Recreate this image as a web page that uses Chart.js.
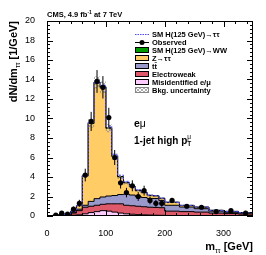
<!DOCTYPE html>
<html>
<head>
<meta charset="utf-8">
<script src="https://cdn.jsdelivr.net/npm/chart.js@4/dist/chart.umd.min.js"></script>
<style>
html,body{margin:0;padding:0;background:#fff;}
canvas{display:block;}
</style>
</head>
<body>
<canvas id="chart" width="266" height="255"></canvas>
<script>
// bin edges in m_tautau [GeV]
const binEdges=[0,10,20,30,40,50,60,70,80,90,100,110,120,130,140,150,160,170,180,190,200,225,250,275,300,325,350];

// per-bin dN/dm values
const misId=[0,0.02,0.03,0.05,0.08,0.12,0.22,0.35,0.45,0.55,0.5,0.4,0.3,0.22,0.18,0.14,0.12,0.1,0.08,0.07,0.05,0.04,0.03,0.02,0.02,0.01];
const ewk=[0.01,0.02,0.04,0.07,0.22,0.43,0.68,0.65,0.65,0.65,0.75,0.85,0.95,0.88,0.87,0.86,0.83,0.8,0.8,0.78,0.45,0.41,0.37,0.28,0.23,0.19];
const ttbar=[0.01,0.02,0.03,0.06,0.08,0.15,0.2,0.5,0.68,0.75,0.8,0.85,0.95,1.15,1.1,1.0,0.95,0.9,0.92,0.75,0.6,0.47,0.35,0.2,0.13,0.1];
const ztt=[0.02,0.02,0.03,0.04,0.1,0.35,3.0,8.0,11.92,11.25,6.95,4.0,1.8,1.15,0.85,0.6,0.5,0.3,0.25,0.2,0.3,0.16,0.15,0.08,0.09,0.05];
const hww=[0,0,0,0,0,0.01,0.02,0.03,0.04,0.05,0.05,0.05,0.04,0.04,0.03,0.03,0.02,0.02,0.02,0.02,0.01,0.01,0.01,0,0,0];
const htt=[0,0,0,0,0.01,0.02,0.05,0.1,0.13,0.15,0.18,0.18,0.15,0.12,0.08,0.06,0.04,0.03,0.02,0.02,0.01,0.01,0.01,0,0,0];
const bkgErr=[0.01,0.01,0.01,0.02,0.03,0.06,0.2,0.45,0.6,0.6,0.42,0.3,0.2,0.17,0.15,0.14,0.13,0.11,0.1,0.09,0.08,0.06,0.05,0.04,0.03,0.03];

const observed=[null,0.1,0.3,0.2,0.7,1.3,4.2,9.7,13.8,13.2,10.1,6.0,3.4,2.4,3.1,2.0,2.6,1.6,1.3,1.3,1.6,1.0,0.9,0.45,0.55,0.3];
const observedErr=[null,0.1,0.17,0.14,0.26,0.36,0.65,0.98,1.17,1.15,1.0,0.77,0.58,0.49,0.56,0.45,0.51,0.4,0.36,0.36,0.25,0.2,0.19,0.13,0.15,0.11];

const xTicks=[0,100,200,300];
const yTicks=[0,2,4,6,8,10,12,14,16,18,20];

const FONT="'Liberation Sans', Arial, Helvetica, sans-serif";

function addUp(a,b){return a.map((v,i)=>v+b[i]);}
const cumMis=misId;
const cumEwk=addUp(cumMis,ewk);
const cumTt=addUp(cumEwk,ttbar);
const cumZtt=addUp(cumTt,ztt);
const cumHww=addUp(cumZtt,hww);
const cumHtt=addUp(cumHww,htt);
const bandUp=addUp(cumZtt,bkgErr);
const bandLo=cumZtt.map((v,i)=>v-bkgErr[i]);

function steps(vals){
  let pts=vals.map((v,i)=>({x:binEdges[i],y:v}));
  pts.push({x:binEdges[binEdges.length-1],y:vals[vals.length-1]});
  return pts;
}

const canvas=document.getElementById("chart");
const ctx0=canvas.getContext("2d");

// hatch pattern for bkg uncertainty
const pc=document.createElement("canvas");
pc.width=4;pc.height=4;
const p=pc.getContext("2d");
p.strokeStyle="#8a8a8a";p.lineWidth=0.7;
p.beginPath();p.moveTo(0,4);p.lineTo(4,0);p.moveTo(0,0);p.lineTo(4,4);p.stroke();
const hatch=ctx0.createPattern(pc,"repeat");

function layer(vals,color){
  return {data:steps(vals),stepped:true,fill:"origin",backgroundColor:color,
    borderColor:"#000",borderWidth:1,pointRadius:0};
}

// rich text helper: parts = [{t, size, bold, dy}]
function richWidth(ctx,parts){
  let w=0;
  parts.forEach(pt=>{
    ctx.font=(pt.bold?"bold ":"")+pt.size+"px "+FONT;
    if(!pt.stack) w+=ctx.measureText(pt.t).width;
  });
  return w;
}
function drawRich(ctx,parts,x,y){
  let cx=x;
  parts.forEach(pt=>{
    ctx.font=(pt.bold?"bold ":"")+pt.size+"px "+FONT;
    ctx.fillText(pt.t,cx,y+(pt.dy||0));
    if(!pt.stack) cx+=ctx.measureText(pt.t).width;
  });
  return cx;
}

const decor={
  id:"decor",
  afterDatasetsDraw(chart){
    const ctx=chart.ctx,xs=chart.scales.x,ys=chart.scales.y;
    ctx.save();
    ctx.strokeStyle="#000";ctx.lineWidth=1;
    observed.forEach((v,i)=>{
      if(v===null) return;
      const px=xs.getPixelForValue((binEdges[i]+binEdges[i+1])/2);
      ctx.beginPath();
      ctx.moveTo(px,ys.getPixelForValue(v-observedErr[i]));
      ctx.lineTo(px,ys.getPixelForValue(v+observedErr[i]));
      ctx.stroke();
    });
    ctx.restore();
  },
  afterDraw(chart){
    const ctx=chart.ctx,a=chart.chartArea,xs=chart.scales.x,ys=chart.scales.y;
    ctx.save();
    ctx.fillStyle="#000";ctx.strokeStyle="#000";ctx.lineWidth=1;
    // frame
    ctx.strokeRect(Math.round(a.left)+0.5,Math.round(a.top)+0.5,Math.round(a.right-a.left)-1,Math.round(a.bottom-a.top)-1);
    // inner ticks
    ctx.beginPath();
    for(let v=0;v<=20.001;v+=0.4){
      const py=Math.round(ys.getPixelForValue(v))+0.5;
      const major=Math.abs(v/2-Math.round(v/2))<0.01;
      const L=major?6:3;
      ctx.moveTo(a.left,py);ctx.lineTo(a.left+L,py);
      ctx.moveTo(a.right,py);ctx.lineTo(a.right-L,py);
    }
    for(let v=0;v<=350.001;v+=20){
      const px=Math.round(xs.getPixelForValue(v))+0.5;
      const major=v%100===0;
      const L=major?6:3;
      ctx.moveTo(px,a.bottom);ctx.lineTo(px,a.bottom-L);
      ctx.moveTo(px,a.top);ctx.lineTo(px,a.top+L);
    }
    ctx.stroke();

    ctx.textBaseline="alphabetic";ctx.textAlign="left";
    // title
    drawRich(ctx,[{t:"CMS, 4.9 fb",size:7.5,bold:true},{t:"-1",size:5,bold:true,dy:-3},{t:" at 7 TeV",size:7.5,bold:true}],a.left,17);

    // y axis title, rotated, aligned to top
    const yParts=[{t:"dN/dm",size:11,bold:true},{t:"\u03c4\u03c4",size:7,dy:3},{t:" [1/GeV]",size:11,bold:true}];
    const yw=richWidth(ctx,yParts);
    ctx.save();
    ctx.translate(17,a.top);
    ctx.rotate(-Math.PI/2);
    drawRich(ctx,yParts,-yw,0);
    ctx.restore();

    // x axis title, right aligned
    const xParts=[{t:"m",size:11,bold:true},{t:"\u03c4\u03c4",size:7,dy:3},{t:" [GeV]",size:11,bold:true}];
    const xw=richWidth(ctx,xParts);
    drawRich(ctx,xParts,a.right-xw,250);

    // channel labels
    drawRich(ctx,[{t:"e",size:10.5,bold:true},{t:"\u03bc",size:10.5}],134,127);
    drawRich(ctx,[{t:"1-jet high p",size:10,bold:true},{t:"\u03bc",size:6.5,dy:-5,stack:true},{t:"T",size:6.5,bold:true,dy:2}],134,144);

    // legend
    const lx=135,lw=14,tx=152;
    const rows=["SM H(125 GeV)\u2192\u03c4\u03c4","Observed","SM H(125 GeV)\u2192WW","Z\u2192\u03c4\u03c4","tt\u0304","Electroweak","Misidentified e/\u03bc","Bkg. uncertainty"];
    const fills=[null,null,"#009a00","#ffcc66","#9999cc","#de5a6a","#ffccff",hatch];
    rows.forEach((r,i)=>{
      const cy=34+i*8;
      if(i===0){
        ctx.save();ctx.strokeStyle="#4a4aff";ctx.setLineDash([1.5,1]);
        ctx.beginPath();ctx.moveTo(lx,cy+0.5);ctx.lineTo(lx+lw,cy+0.5);ctx.stroke();ctx.restore();
      }else if(i===1){
        ctx.beginPath();ctx.moveTo(lx,cy+0.5);ctx.lineTo(lx+lw,cy+0.5);ctx.stroke();
        ctx.beginPath();ctx.arc(lx+lw/2,cy+0.5,2.5,0,Math.PI*2);ctx.fill();
      }else{
        ctx.fillStyle=fills[i];
        ctx.fillRect(lx,cy-3,lw,6);
        ctx.strokeStyle=i===7?"#888":"#000";
        ctx.strokeRect(lx+0.5,cy-2.5,lw-1,5);
        ctx.strokeStyle="#000";
      }
      ctx.fillStyle="#000";
      ctx.font="bold 7.5px "+FONT;
      ctx.fillText(r,tx,cy+2.5);
    });
    ctx.restore();
  }
};

new Chart(canvas,{
  type:"line",
  data:{
    datasets:[
      {data:observed.map((v,i)=>({x:(binEdges[i]+binEdges[i+1])/2,y:v})),showLine:false,
        pointRadius:2.6,pointBackgroundColor:"#000",pointBorderColor:"#000",pointBorderWidth:0},
      {data:steps(cumHtt),stepped:true,fill:false,borderColor:"#4a4aff",borderWidth:1,borderDash:[2,1.5],pointRadius:0},
      {data:steps(bandUp),stepped:true,fill:"+1",backgroundColor:hatch,borderWidth:0,borderColor:"rgba(0,0,0,0)",pointRadius:0},
      {data:steps(bandLo),stepped:true,fill:false,borderWidth:0,borderColor:"rgba(0,0,0,0)",pointRadius:0},
      layer(cumMis,"#ffccff"),
      layer(cumEwk,"#de5a6a"),
      layer(cumTt,"#9999cc"),
      layer(cumZtt,"#ffcc66"),
      layer(cumHww,"#009a00")
    ]
  },
  options:{
    responsive:false,
    animation:false,
    layout:{padding:{left:0,top:21,right:13,bottom:0}},
    plugins:{legend:{display:false},tooltip:{enabled:false}},
    scales:{
      x:{type:"linear",min:0,max:350,
        grid:{display:false},border:{display:false},
        afterFit(s){s.height=39;},
        afterBuildTicks(s){s.ticks=xTicks.map(v=>({value:v}));},
        ticks:{padding:4,color:"#000",font:{family:FONT,size:9},maxRotation:0}},
      y:{type:"linear",min:0,max:20,
        grid:{display:false},border:{display:false},
        afterFit(s){s.width=47;},
        afterBuildTicks(s){s.ticks=yTicks.map(v=>({value:v}));},
        ticks:{padding:4,color:"#000",font:{family:FONT,size:9}}}
    }
  },
  plugins:[decor]
});
</script>
</body>
</html>
